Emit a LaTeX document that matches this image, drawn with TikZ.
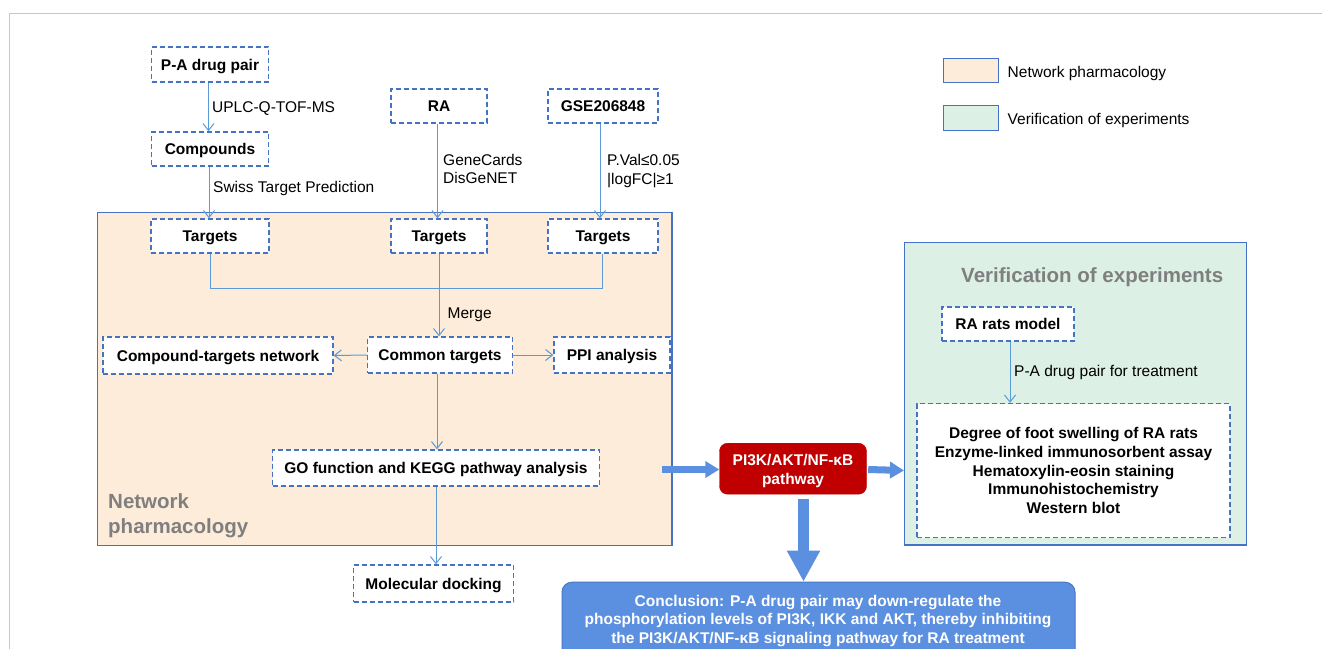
\documentclass[tikz,border=0pt]{standalone}
\usepackage{fontspec}
\setmainfont{Liberation Sans}
\usetikzlibrary{arrows.meta}
\definecolor{boxblue}{HTML}{4472C4}
\definecolor{connblue}{HTML}{5B9BD5}
\definecolor{thickblue}{RGB}{91,143,224}
\definecolor{concborder}{RGB}{70,120,200}
\definecolor{orangefill}{RGB}{252,236,217}
\definecolor{greenfill}{RGB}{221,240,229}
\definecolor{darkred}{HTML}{C00000}
\definecolor{titlegray}{HTML}{7F7F7F}
\definecolor{framegray}{RGB}{200,200,200}
\begin{document}
\begin{tikzpicture}[x=1pt,y=-1pt,
  font=\fontsize{15.5}{18.8}\selectfont,
  dboxbase/.style={draw=boxblue, dash pattern=on 5pt off 3pt, line width=1.4pt, fill=white,
    font=\fontsize{15.5}{18.8}\selectfont\bfseries, minimum height=35pt, inner sep=2pt, align=center},
  dbox/.style={dboxbase, text height=11.5pt, text depth=0.5pt},
  conn/.style={draw=connblue, line width=1pt},
  arr/.style={conn, -{Straight Barb[length=7pt,width=11pt]}},
  lbl/.style={anchor=west, inner sep=0pt, align=left, yshift=-1.5pt},
  bigh/.style={draw=thickblue, line width=7pt, -{Triangle[length=14pt,width=16pt]}},
  bigv/.style={draw=thickblue, line width=11pt, -{Triangle[length=31pt,width=31pt]}},
  region/.style={draw=boxblue, line width=1.3pt},
  gtitle/.style={anchor=west, inner sep=0pt, align=left, text=titlegray, yshift=-2pt,
    font=\fontsize{20.5}{25}\selectfont\bfseries},
]
\useasboundingbox (0,0) rectangle (1322,648);
\clip (0,0) rectangle (1322,648);
\fill[white] (0,0) rectangle (1322,648);
\draw[framegray, line width=1.5pt] (9.5,660) -- (9.5,13.5) -- (1330,13.5);

% legend
\node[region, fill=orangefill, minimum width=55pt, minimum height=24.5pt, inner sep=0pt] (legA) at (970.8,70.5) {};
\node[region, fill=greenfill, minimum width=55pt, minimum height=24.5pt, inner sep=0pt] (legB) at (970.8,118) {};
\node[lbl] (legAt) at (1007.5,72) {Network pharmacology};
\node[lbl] (legBt) at (1007.5,119) {Verification of experiments};

% regions
\draw[region, fill=orangefill] (97.7,212.7) rectangle (672,545.5);
\draw[region, fill=greenfill] (904.8,242.7) rectangle (1246.5,545);
\node[gtitle] (nptitle) at (108,513.5) {Network\\pharmacology};
\node[gtitle] (vetitle) at (961,275) {Verification of experiments};

% nodes
\node[dbox, minimum width=117pt] (pa) at (210,64.5) {P-A drug pair};
\node[dbox, minimum width=117pt, minimum height=34pt] (comp) at (210,149) {Compounds};
\node[dbox, minimum width=96pt, minimum height=34pt] (ra) at (439,106) {RA};
\node[dbox, minimum width=110pt, minimum height=34pt] (gse) at (603,106) {GSE206848};
\node[dbox, minimum width=118pt, minimum height=34pt] (t1) at (210,236) {Targets};
\node[dbox, minimum width=96pt, minimum height=34pt] (t2) at (439,236) {Targets};
\node[dbox, minimum width=110pt, minimum height=34pt] (t3) at (603,236) {Targets};
\node[dbox, minimum width=145pt, minimum height=36pt] (common) at (440,355) {Common targets};
\node[dbox, minimum width=230pt, minimum height=37pt] (ctn) at (218,355.5) {Compound-targets network};
\node[dbox, minimum width=116pt, minimum height=36pt] (ppi) at (612,355) {PPI analysis};
\node[dbox, minimum width=327pt, minimum height=36pt] (go) at (436,468) {GO function and KEGG pathway analysis};
\node[dbox, minimum width=160pt, minimum height=37pt] (dock) at (433.5,583.5) {Molecular docking};
\node[draw=darkred, fill=darkred, rounded corners=8pt, minimum width=147pt, minimum height=51pt,
  inner sep=0pt] (pi3k) at (793,468.7) {};
\node[text=white, font=\fontsize{15.5}{19}\selectfont\bfseries, align=center, inner sep=0pt] (pi3ktext) at (793,471.2) {PI3K/AKT/NF-κB\\pathway};
\node[dbox, minimum width=132pt, minimum height=34pt] (rrm) at (1008,324) {RA rats model};
\node[dboxbase, minimum width=313pt, minimum height=134pt] (res) at (1073.5,470.5) {Degree of foot swelling of RA rats\\Enzyme-linked immunosorbent assay\\Hematoxylin-eosin staining\\Immunohistochemistry\\Western blot};
\node[draw=concborder, line width=1pt, fill=thickblue, rounded corners=10pt, minimum width=513pt,
  minimum height=100pt, anchor=north west, inner sep=0pt] (conc) at (561.5,581.7) {};
\node[text=white, font=\fontsize{15.5}{18.7}\selectfont\bfseries, align=center, inner sep=0pt] (conctext) at (818,621)
  {Conclusion: P-A drug pair may down-regulate the\\phosphorylation levels of PI3K, IKK and AKT, thereby inhibiting\\the PI3K/AKT/NF-κB signaling pathway for RA treatment};

% connectors
\draw[arr] (pa.south -| 208.5,0) -- (comp.north -| 208.5,0);
\node[lbl] (l1) at (212,107) {UPLC-Q-TOF-MS};
\draw[arr] (comp.south -| 209,0) -- (t1.north -| 209,0);
\node[lbl] (l2) at (213,187) {Swiss Target Prediction};
\draw[arr] (ra.south -| 437.5,0) -- (t2.north -| 437.5,0);
\node[lbl] (l3) at (443,167.5) {GeneCards\\DisGeNET};
\draw[arr] (gse.south -| 600,0) -- (t3.north -| 600,0);
\node[lbl] (l4) at (607,169.5) {P.Val≤0.05\\|logFC|≥1};

\coordinate (mj) at (439,288.5);
\draw[conn] (t1.south) |- (mj) -| (t3.south -| 602,0);
\draw[arr] (t2.south) -- (t2.south |- common.north);
\node[lbl] (l5) at (447.5,313) {Merge};
\draw[arr] (common.west) -- (ctn.east);
\draw[arr] (common.east) -- (ppi.west);
\draw[arr] (common.south -| 437,0) -- (go.north -| 437,0);
\draw[arr] (go.south -| 436,0) -- (dock.north -| 436,0);

\draw[arr] (rrm.south -| 1010,0) -- (res.north -| 1010,0);
\node[lbl] (l6) at (1014,370.7) {P-A drug pair for treatment};

\coordinate (bstart) at (661.7,469.5);
\draw[bigh] (bstart) -- (pi3k.west |- bstart);
\draw[bigh] (pi3k.east |- bstart) ++(1.5,0) -- (res.west -| 904,0) coordinate (bend);
\coordinate (dstart) at (803.5,499);
\draw[bigv] (dstart) -- (dstart |- conc.north);
\end{tikzpicture}
\end{document}
